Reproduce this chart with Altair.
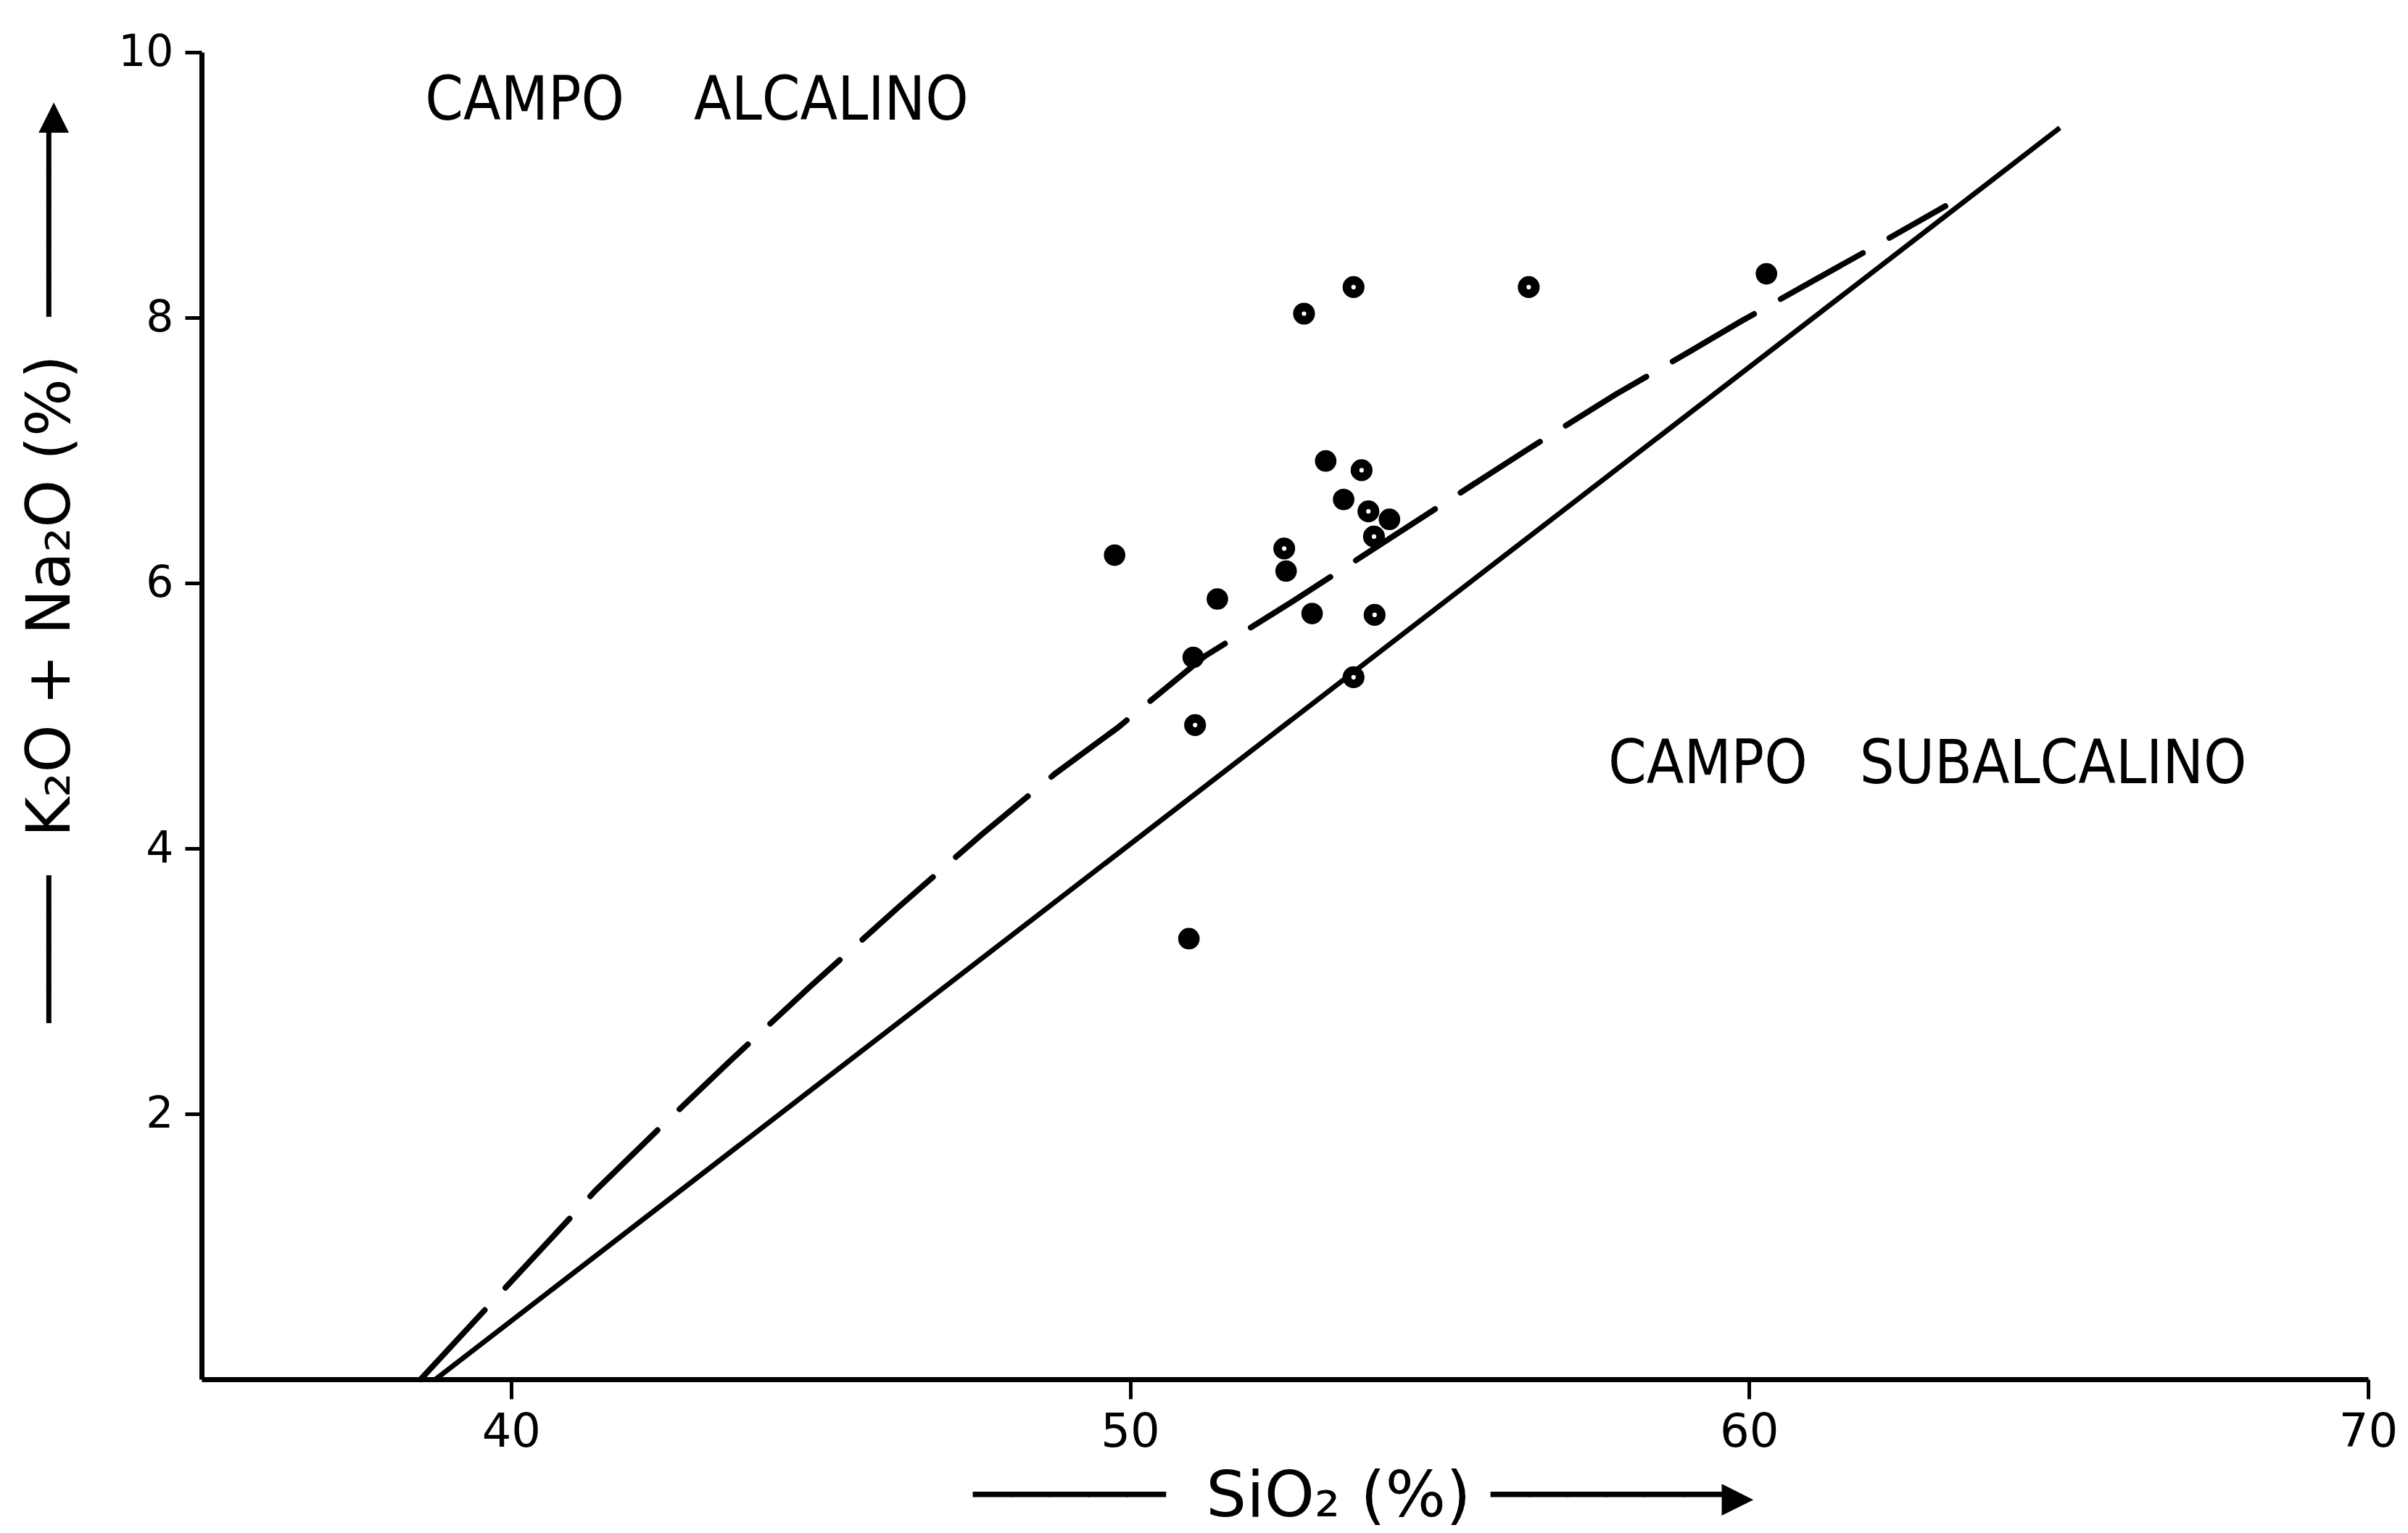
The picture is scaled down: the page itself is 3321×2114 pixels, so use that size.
import altair as alt
import pandas as pd

# ---- data ----
x_ticks = [40, 50, 60, 70]
y_ticks = [2, 4, 6, 8, 10]

sio2_filled = [49.75, 51.41, 51.02, 50.95, 52.94, 53.16, 53.45, 54.19, 60.28, 52.52]
alk_filled = [6.21, 5.88, 5.44, 3.32, 5.77, 6.92, 6.63, 6.48, 8.33, 6.09]

sio2_ring = [53.61, 52.81, 56.44, 53.74, 53.85, 53.94, 52.49, 53.95, 53.61, 51.05]
alk_ring = [8.23, 8.03, 8.23, 6.85, 6.54, 6.35, 6.26, 5.76, 5.29, 4.93]

solid_x = [38.78, 65.02]
solid_y = [0.0, 9.43]

dashed_x = [38.54, 39.81, 41.36, 42.35, 43.54, 44.81, 46.24, 47.59, 48.78, 49.80,
            51.21, 52.62, 55.10, 56.40, 57.84, 59.06, 59.86, 60.93, 61.85, 63.17]
dashed_y = [0.0, 0.64, 1.42, 1.87, 2.40, 2.95, 3.55, 4.10, 4.56, 4.91,
            5.45, 5.86, 6.61, 7.00, 7.42, 7.75, 7.97, 8.25, 8.49, 8.84]

field_labels = ["CAMPO\u00a0\u00a0\u00a0\u00a0ALCALINO", "CAMPO\u00a0\u00a0\u00a0SUBALCALINO"]
field_x = [43.0, 62.88]
field_y = [9.63, 4.63]

x_title = "\u2500\u2500\u2500\u2500\u2500\u00a0\u00a0SiO\u2082 (%)\u00a0\u2500\u2500\u2500\u2500\u2500\u2500\u25b8"
y_title = "\u2500\u2500\u2500\u2500\u00a0\u00a0K\u2082O + Na\u2082O (%)\u00a0\u00a0\u2500\u2500\u2500\u2500\u2500\u25b8"

# ---- tables ----
df_filled = pd.DataFrame({"sio2": sio2_filled, "alk": alk_filled})
df_ring = pd.DataFrame({"sio2": sio2_ring, "alk": alk_ring})
df_solid = pd.DataFrame({"sio2": solid_x, "alk": solid_y, "i": range(len(solid_x))})
df_dashed = pd.DataFrame({"sio2": dashed_x, "alk": dashed_y, "i": range(len(dashed_x))})
df_text = pd.DataFrame({"sio2": field_x, "alk": field_y, "label": field_labels})

FONT = "DejaVu Sans"
NARROW = "'Liberation Sans Narrow', 'DejaVu Sans Condensed', 'DejaVu Sans', sans-serif"

X = alt.X(
    "sio2:Q",
    scale=alt.Scale(domain=[35, 70], nice=False, zero=False),
    axis=alt.Axis(
        values=x_ticks, title=x_title, grid=False, labelFlush=False,
        domainColor="black", domainWidth=7, tickColor="black", tickWidth=5, tickSize=27,
        labelFont=FONT, labelFontSize=64, labelColor="black", labelPadding=14,
        titleFont=FONT, titleFontSize=88, titleFontWeight="normal", titleColor="black",
        titleX=1602, titleY=162, titleAlign="center", titleBaseline="middle",
    ),
)
Y = alt.Y(
    "alk:Q",
    scale=alt.Scale(domain=[0, 10], nice=False, zero=False),
    axis=alt.Axis(
        values=y_ticks, title=y_title, grid=False, labelFlush=False,
        domainColor="black", domainWidth=7, tickColor="black", tickWidth=5, tickSize=23,
        labelFont=FONT, labelFontSize=60, labelColor="black", labelPadding=16,
        titleFont=FONT, titleFontSize=84, titleFontWeight="normal", titleColor="black",
        titleX=-208, titleY=703, titleAngle=270, titleAlign="center", titleBaseline="middle",
    ),
)

solid = alt.Chart(df_solid).mark_line(color="black", strokeWidth=7).encode(
    x=X, y=Y, order="i:Q"
)
dashed = alt.Chart(df_dashed).mark_line(
    color="black", strokeWidth=8, strokeDash=[130, 42], strokeCap="round"
).encode(x=X, y=Y, order="i:Q")

filled = alt.Chart(df_filled).mark_point(
    shape="circle", filled=True, color="black", size=880, opacity=1
).encode(x=X, y=Y)

rings = alt.Chart(df_ring).mark_point(
    shape="circle", filled=True, fill="white", stroke="black", strokeWidth=12,
    size=330, opacity=1, fillOpacity=1, strokeOpacity=1
).encode(x=X, y=Y)

texts = alt.Chart(df_text).mark_text(
    font=NARROW, fontSize=84, color="black", align="center", baseline="middle"
).encode(x=X, y=Y, text="label:N")

chart = alt.layer(solid, dashed, filled, rings, texts).properties(
    width=2988, height=1830,
    autosize=alt.AutoSizeParams(type="none"),
    padding={"left": 278, "top": 72, "right": 55, "bottom": 212},
    background="white",
).configure_view(stroke=None)

chart.save("out.html", embed_options={"renderer": "svg", "actions": False})
